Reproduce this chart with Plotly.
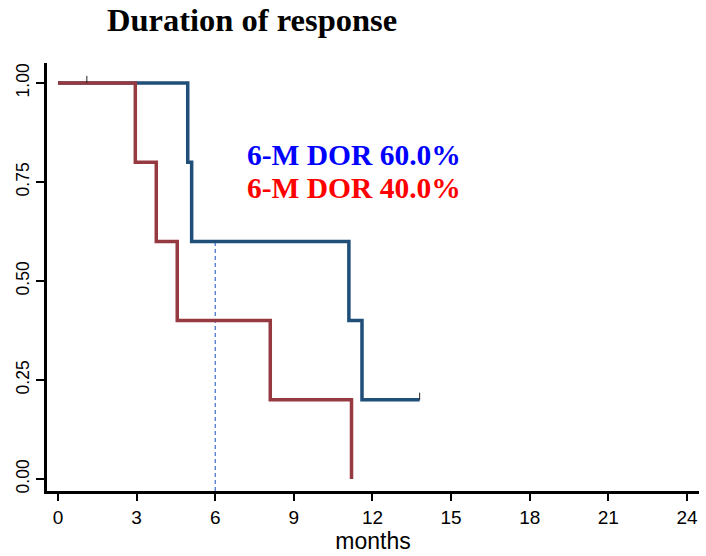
import plotly.graph_objects as go

# Kaplan-Meier step data (months, survival)
blue_t = [0, 4.95, 5.1, 11.1, 11.6, 13.8]
blue_s = [1.0, 0.8, 0.6, 0.4, 0.2, 0.2]
red_t = [0, 2.95, 3.75, 4.55, 8.1, 11.2]
red_s = [1.0, 0.8, 0.6, 0.4, 0.2, 0.0]

censor_t = [1.1, 13.8]
censor_s = [1.0, 0.2]

x_ticks = [0, 3, 6, 9, 12, 15, 18, 21, 24]
y_ticks = [0, 0.25, 0.5, 0.75, 1.0]
y_ticktext = ["0.00", "0.25", "0.50", "0.75", "1.00"]

landmark = 6
landmark_s = 0.6
labels = ["6-M DOR 60.0%", "6-M DOR 40.0%"]
label_colors = ["#0000ff", "#ff0000"]

BLUE = "#1f4e79"
RED = "#963a42"

fig = go.Figure()
fig.add_trace(go.Scatter(x=blue_t, y=blue_s, mode="lines", line=dict(color=BLUE, width=3.5, shape="hv"),
                         showlegend=False, hoverinfo="skip"))
fig.add_trace(go.Scatter(x=red_t, y=red_s, mode="lines", line=dict(color=RED, width=3.5, shape="hv"),
                         showlegend=False, hoverinfo="skip"))

# censor ticks (short upward marks)
for t, s in zip(censor_t, censor_s):
    fig.add_trace(go.Scatter(x=[t, t], y=[s, s + 0.018], mode="lines",
                             line=dict(color="#222222", width=1), showlegend=False, hoverinfo="skip"))

xr = [-0.42, 24.46]
yr = [-0.0303, 1.0505]

fig.add_shape(type="line", xref="x", yref="y", x0=landmark, x1=landmark, y0=yr[0], y1=landmark_s,
              line=dict(color="#3f6cc8", width=1.2, dash="4px,3px"), layer="below")

for i, (txt, col) in enumerate(zip(labels, label_colors)):
    fig.add_annotation(x=7.15, y=0.818 - 0.082 * i, xref="x", yref="y", text=f"<b>{txt}</b>",
                       showarrow=False, xanchor="left", yanchor="middle",
                       font=dict(family="Liberation Serif", size=29.5, color=col))

fig.add_annotation(x=0.314, y=1, xref="paper", yref="paper", yshift=43, text="<b>Duration of response</b>",
                   showarrow=False, xanchor="center", yanchor="middle",
                   font=dict(family="Liberation Serif", size=32.5, color="black"))

fig.update_layout(
    width=706, height=556,
    margin=dict(l=47, r=7, t=63, b=65),
    plot_bgcolor="white", paper_bgcolor="white",
    font=dict(family="Liberation Sans", color="black"),
)
fig.update_xaxes(range=xr, tickvals=x_ticks, showline=True, linecolor="black", linewidth=2.5,
                 ticks="outside", ticklen=7, tickwidth=2, tickcolor="black", showgrid=False, zeroline=False,
                 tickfont=dict(size=19), title=dict(text="months", font=dict(size=23), standoff=2))
fig.update_yaxes(range=yr, tickvals=y_ticks, ticktext=y_ticktext, tickangle=-90, showline=True,
                 linecolor="black", linewidth=2.5, ticks="outside", ticklen=8, tickwidth=2, tickcolor="black",
                 showgrid=False, zeroline=False, tickfont=dict(size=17.5))

fig.write_html("out.html")
